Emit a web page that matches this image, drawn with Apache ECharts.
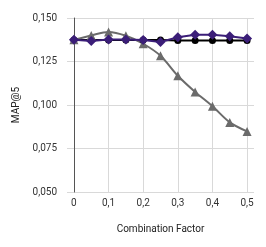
<!DOCTYPE html>
<html><head><meta charset="utf-8">
<script src="https://cdn.jsdelivr.net/npm/echarts@6/dist/echarts.min.js"></script>
<style>html,body{margin:0;padding:0;background:#fff}#c{width:266px;height:247px}</style>
</head><body><div id="c"></div>
<script>
var xValues = [0, 0.05, 0.1, 0.15, 0.2, 0.25, 0.3, 0.35, 0.4, 0.45, 0.5];
var blackSeries = [0.1373, 0.1373, 0.1373, 0.1373, 0.1373, 0.1373, 0.1371, 0.1371, 0.1371, 0.1371, 0.1371];
var purpleSeries = [0.1375, 0.1368, 0.1376, 0.1376, 0.1373, 0.1362, 0.1389, 0.1404, 0.1404, 0.1395, 0.1382];
var graySeries = [0.1375, 0.1400, 0.1420, 0.1398, 0.1352, 0.1283, 0.1168, 0.1075, 0.0993, 0.0900, 0.0848];
var xTicks = [0, 0.1, 0.2, 0.3, 0.4, 0.5];

function pairs(ys){ return xValues.map(function(x,i){return [x, ys[i]];}); }
function fmt(v, d){ return v.toFixed(d).replace('.', ','); }

var font = 'Roboto';
var chart = echarts.init(document.getElementById('c'));
chart.setOption({
  animation: false,
  grid: {left: 67, right: 12, top: 18, bottom: 55},
  xAxis: {
    type: 'value', min: -0.02, max: 0.52, interval: 0.1,
    name: 'Combination Factor', nameLocation: 'middle', nameGap: 32,
    nameTextStyle: {color: '#222', fontFamily: font, fontSize: 10},
    axisLine: {show: false},
    axisTick: {show: false, customValues: xTicks},
    axisLabel: {customValues: xTicks, color: '#333', fontFamily: font, fontSize: 10, margin: 6,
      formatter: function(v){ return v === 0 ? '0' : fmt(v, 1); }},
    splitLine: {show: true, lineStyle: {color: '#d9d9d9', width: 1}}
  },
  yAxis: {
    type: 'value', min: 0.05, max: 0.15, interval: 0.025,
    name: 'MAP@5', nameLocation: 'middle', nameGap: 43,
    nameTextStyle: {color: '#222', fontFamily: font, fontSize: 10},
    axisLine: {show: true, onZero: true, lineStyle: {color: '#555', width: 1}},
    axisTick: {show: false},
    axisLabel: {color: '#333', fontFamily: font, fontSize: 10, margin: 10,
      formatter: function(v){ return fmt(v, 3); }},
    splitLine: {show: true, lineStyle: {color: '#d9d9d9', width: 1}}
  },
  series: [
    {type: 'line', data: pairs(blackSeries), symbol: 'circle', symbolSize: 7,
     itemStyle: {color: '#000'}, lineStyle: {color: '#000', width: 2}},
    {type: 'line', data: pairs(graySeries), symbol: 'triangle', symbolSize: 9, smooth: 0.3,
     itemStyle: {color: '#6b6b6b'}, lineStyle: {color: '#6b6b6b', width: 2}},
    {type: 'line', data: pairs(purpleSeries), symbol: 'diamond', symbolSize: 10,
     itemStyle: {color: '#3b1e78'}, lineStyle: {color: '#3b1e78', width: 2}}
  ]
});
</script></body></html>
